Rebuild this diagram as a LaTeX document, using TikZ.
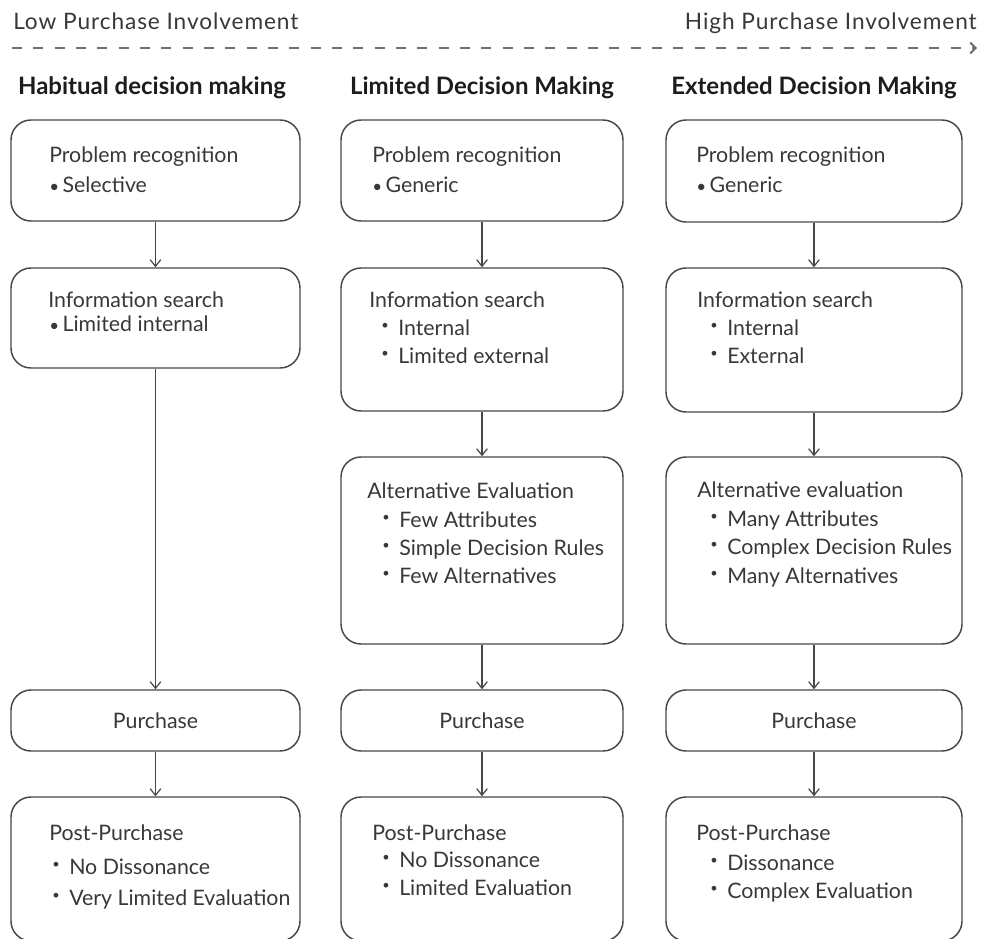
\documentclass[tikz,border=0pt]{standalone}
\usepackage{fontspec}
\usepackage{graphicx}
\setmainfont{Lato}
\usetikzlibrary{arrows.meta,fit}

\definecolor{ink}{HTML}{383838}
\definecolor{headink}{HTML}{1C1C1C}
\definecolor{edge}{HTML}{474747}
\definecolor{dashc}{HTML}{707070}

% bullet glyphs: a plain one and a small raised one
\newcommand\plainbul{\makebox[10pt][l]{\scalebox{0.8}{•}}}
\newcommand\upbul{\makebox[12.75pt][l]{\raisebox{0.55ex}{\scalebox{0.6}{•}}}}

\begin{document}
\begin{tikzpicture}[x=0.75pt,y=-0.75pt,
  stagebox/.style={draw=edge, line width=1.1pt, rounded corners=15pt, inner sep=0pt},
  body/.style={anchor=base west, inner sep=0pt, text=ink, font=\fontsize{16}{19}\selectfont},
  plaintext/.style={inner sep=0pt, text=ink, font=\fontsize{16}{19}\selectfont},
  endlabel/.style={inner sep=0pt, text=ink, font=\fontsize{17}{20}\selectfont\addfontfeature{LetterSpace=4}},
  colhead/.style={anchor=base, inner sep=0pt, text=headink, font=\fontsize{18}{21}\selectfont\bfseries},
  flow/.style={draw=edge, line width=0.9pt, -{Straight Barb[length=5pt,width=8pt]}},
  involve/.style={draw=dashc, line width=1.5pt, dash pattern=on 7.5pt off 8.5pt, -{Straight Barb[length=4pt,width=8pt]}}]

\useasboundingbox (0,0) rectangle (984,938);

% involvement scale
\node[endlabel, anchor=base west] (low) at (13,30) {Low Purchase Involvement};
\node[endlabel, anchor=base east] (high) at (977,30) {High Purchase Involvement};
\coordinate (scaleA) at (12,48);
\coordinate (scaleB) at (977,48);
\draw[involve] (scaleA) -- (scaleB);

% column headings
\node[colhead] (hHab) at (152,95) {Habitual decision making};
\node[colhead] (hLim) at (482,95) {Limited Decision Making};
\node[colhead] (hExt) at (814,95) {Extended Decision Making};

% ---------- habitual decision making ----------
\node[stagebox, fit={(11,120) (300,221)}] (b11) {};
\node[body] (t11a) at (49,162) {Problem recognition};
\node[body] (t11b) at (49,192) {\plainbul Selective};

\node[stagebox, fit={(11,268) (300,368)}] (b12) {};
\node[body] (t12a) at (48,307) {Information search};
\node[body] (t12b) at (49,331) {\plainbul Limited internal};

\node[stagebox, fit={(11,690) (300,751)}] (b14) {};
\node[plaintext] (t14) at (b14.center) {Purchase};

\node[stagebox, fit={(11,797) (300,941)}] (b15) {};
\node[body] (t15a) at (49,840) {Post-Purchase};
\node[body] (t15b) at (52,874) {\upbul No Dissonance};
\node[body] (t15c) at (52,905) {\upbul Very Limited Evaluation};

\draw[flow] (b11) -- (b12);
\draw[flow] (b12) -- (b14);
\draw[flow] (b14) -- (b15);

% ---------- limited decision making ----------
\node[stagebox, fit={(341,120) (623,221)}] (b21) {};
\node[body] (t21a) at (372,162) {Problem recognition};
\node[body] (t21b) at (372,192) {\plainbul Generic};

\node[stagebox, fit={(341,268) (623,411)}] (b22) {};
\node[body] (t22a) at (369,307) {Information search};
\node[body] (t22b) at (381,335) {\upbul Internal};
\node[body] (t22c) at (381,363) {\upbul Limited external};

\node[stagebox, fit={(341,457) (623,644)}] (b23) {};
\node[body] (t23a) at (367,498) {Alternative Evaluation};
\node[body] (t23b) at (382,527) {\upbul Few Attributes};
\node[body] (t23c) at (382,555) {\upbul Simple Decision Rules};
\node[body] (t23d) at (382,583) {\upbul Few Alternatives};

\node[stagebox, fit={(341,690) (623,751)}] (b24) {};
\node[plaintext] (t24) at (b24.center) {Purchase};

\node[stagebox, fit={(341,797) (623,941)}] (b25) {};
\node[body] (t25a) at (372,840) {Post-Purchase};
\node[body] (t25b) at (382,867) {\upbul No Dissonance};
\node[body] (t25c) at (382,895) {\upbul Limited Evaluation};

\draw[flow] (b21) -- (b22);
\draw[flow] (b22) -- (b23);
\draw[flow] (b23) -- (b24);
\draw[flow] (b24) -- (b25);

% ---------- extended decision making ----------
\node[stagebox, fit={(666,120) (962,222)}] (b31) {};
\node[body] (t31a) at (696,162) {Problem recognition};
\node[body] (t31b) at (696,192) {\plainbul Generic};

\node[stagebox, fit={(666,268) (962,412)}] (b32) {};
\node[body] (t32a) at (697,307) {Information search};
\node[body] (t32b) at (710,335) {\upbul Internal};
\node[body] (t32c) at (710,363) {\upbul External};

\node[stagebox, fit={(666,457) (962,644)}] (b33) {};
\node[body] (t33a) at (697,497) {Alternative evaluation};
\node[body] (t33b) at (710,526) {\upbul Many Attributes};
\node[body] (t33c) at (710,554) {\upbul Complex Decision Rules};
\node[body] (t33d) at (710,583) {\upbul Many Alternatives};

\node[stagebox, fit={(666,690) (962,751)}] (b34) {};
\node[plaintext] (t34) at (b34.center) {Purchase};

\node[stagebox, fit={(666,797) (962,941)}] (b35) {};
\node[body] (t35a) at (696,840) {Post-Purchase};
\node[body] (t35b) at (710,870) {\upbul Dissonance};
\node[body] (t35c) at (710,898) {\upbul Complex Evaluation};

\draw[flow] (b31) -- (b32);
\draw[flow] (b32) -- (b33);
\draw[flow] (b33) -- (b34);
\draw[flow] (b34) -- (b35);
\end{tikzpicture}
\end{document}
